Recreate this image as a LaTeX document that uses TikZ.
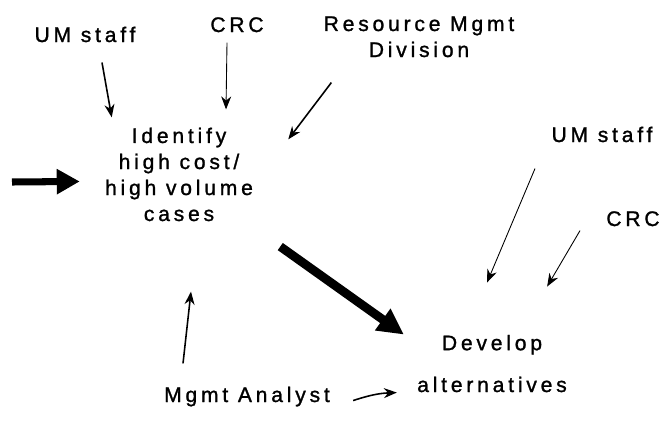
\documentclass[tikz,border=0pt]{standalone}
\usepackage{fontspec}
\setmainfont{Liberation Sans}[LetterSpace=18, FakeBold=1.2]
\usetikzlibrary{arrows.meta}

\begin{document}
\begin{tikzpicture}[
    x=0.02cm, y=-0.02cm,
    font=\fontsize{12}{14.8}\selectfont,
    txt/.style={inner sep=0pt, align=center, anchor=base},
    arrow/.style={-{Stealth[length=2.6mm,width=2mm]}, line width=0.9pt},
    faint/.style={arrow, line width=0.5pt},
    heavy/.style={-{Triangle[length=4.6mm,width=4.8mm]}, line width=4pt}
]
\useasboundingbox (0,0) rectangle (662,423);

\node[txt] (umL) at (85,42) {UM staff};
\node[txt] (crcT) at (237,32) {CRC};
\node[txt] (rmd) at (419,57) {Resource Mgmt\\Division};
\node[txt] (ident) at (179,221) {Identify\\high cost/\\high volume\\cases};
\node[txt] (umR) at (602,142) {UM staff};
\node[txt] (crcR) at (633,226) {CRC};
\node[txt] (dev) at (492,392) {Develop\\[9pt]alternatives};
\node[txt] (analyst) at (247,402) {Mgmt Analyst};
\coordinate (src) at (12,182);

\draw[heavy] (src) -- ([shift={(-25,7)}]ident.west);
\draw[arrow] ([shift={(17,20)}]umL.south) -- ([shift={(7,-10)}]ident.north west);
\draw[faint] ([shift={(-10,10)}]crcT.south) -- ([shift={(47,-18)}]ident.north);
\draw[arrow] ([shift={(8,25)}]rmd.south west) -- ([shift={(35,12)}]ident.north east);
\draw[heavy, line width=5pt, -{Triangle[length=5.2mm,width=5mm]}]
    ([shift={(27,25)}]ident.south east) -- ([shift={(-13,0)}]dev.north west);
\draw[faint] ([shift={(-67,26)}]umR.south) -- ([shift={(-5,-52)}]dev.north);
\draw[faint] ([shift={(-26,4)}]crcR.south west) -- ([shift={(-20,-48)}]dev.north east);
\draw[arrow] ([shift={(-64,-23)}]analyst.north) -- ([shift={(12,70)}]ident.south);
\draw[arrow] ([shift={(23,4)}]analyst.east) to[bend left=8] ([shift={(-20,0)}]dev.south west);
\end{tikzpicture}
\end{document}
